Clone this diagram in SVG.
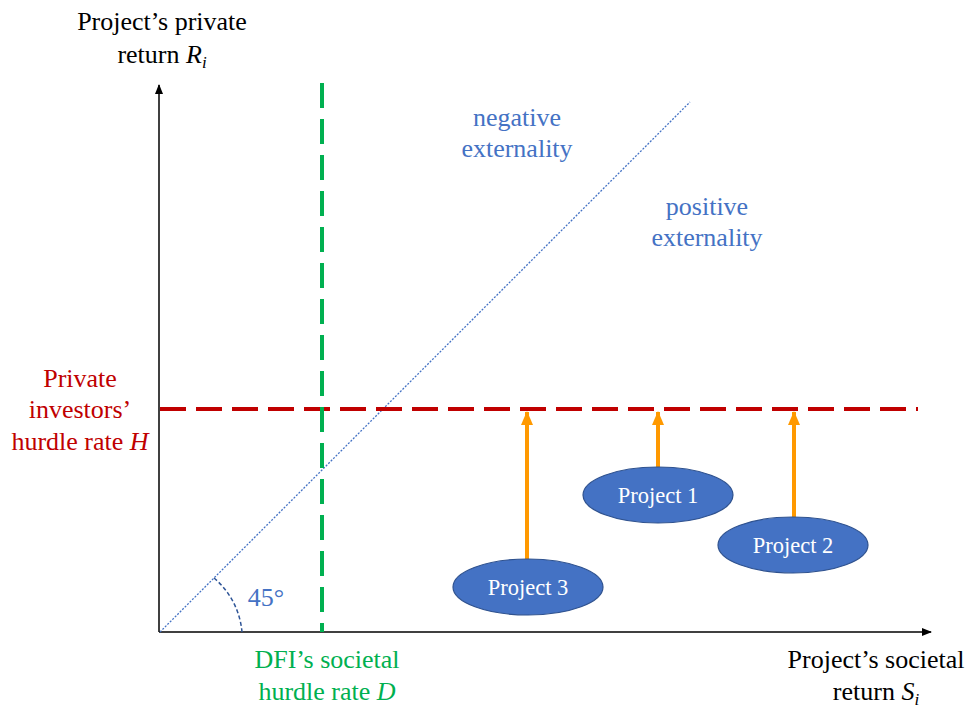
<svg xmlns="http://www.w3.org/2000/svg" width="971" height="708" viewBox="0 0 971 708">
<style>
text{font-family:"Liberation Serif","Times New Roman",serif;font-size:26px;text-anchor:middle}
.blk{fill:#000}
.blu{fill:#4472C4}
.red{fill:#C00000}
.grn{fill:#00B050}
.ptxt{fill:#fff;font-size:22.5px}
.ell{fill:#4472C4;stroke:#2F528F;stroke-width:1.2}
.orr{stroke:#FF9900;stroke-width:4;fill:none}
</style>
<defs>
<marker id="ah" markerWidth="10" markerHeight="8" refX="9" refY="4" orient="auto" markerUnits="userSpaceOnUse">
<path d="M0,0 L10,4 L0,8 z" fill="#000"/>
</marker>
<marker id="oh" markerWidth="14" markerHeight="12" refX="13" refY="6" orient="auto" markerUnits="userSpaceOnUse">
<path d="M0,0 L14,6 L0,12 z" fill="#FF9900"/>
</marker>
</defs>
<g id="connectors">
<line x1="159" y1="632" x2="159" y2="85" stroke="#000" stroke-width="1.5" marker-end="url(#ah)"/>
<line x1="159" y1="632" x2="931" y2="632" stroke="#000" stroke-width="1.5" marker-end="url(#ah)"/>
<line x1="160" y1="632" x2="690" y2="102" stroke="#4472C4" stroke-width="1.3" stroke-dasharray="2,1.5"/>
<path d="M214,578 A80,80 0 0 1 242,632" fill="none" stroke="#2F5597" stroke-width="1.5" stroke-dasharray="4,2.5"/>
<line x1="160" y1="409" x2="918" y2="409" stroke="#C00000" stroke-width="4" stroke-dasharray="26,10"/>
<line x1="322" y1="83" x2="322" y2="632" stroke="#00B050" stroke-width="4" stroke-dasharray="25,11"/>
<line class="orr" x1="527" y1="559" x2="527" y2="412" marker-end="url(#oh)"/>
<line class="orr" x1="658" y1="467" x2="658" y2="412" marker-end="url(#oh)"/>
<line class="orr" x1="794" y1="518" x2="794" y2="412" marker-end="url(#oh)"/>
</g>
<g id="ylabel"><text class="blk" x="162" y="30">Project’s private</text><text class="blk" x="162" y="63">return <tspan font-style="italic">R</tspan><tspan font-style="italic" font-size="17" dy="5">i</tspan></text></g>
<g id="xlabel"><text class="blk" x="876" y="668">Project’s societal</text><text class="blk" x="876" y="700">return <tspan font-style="italic">S</tspan><tspan font-style="italic" font-size="17" dy="5">i</tspan></text></g>
<g id="neg"><text class="blu" x="517" y="126">negative</text><text class="blu" x="517" y="157">externality</text></g>
<g id="pos"><text class="blu" x="707" y="215">positive</text><text class="blu" x="707" y="246">externality</text></g>
<g id="hlabel"><text class="red" x="80" y="387">Private</text><text class="red" x="80" y="418">investors’</text><text class="red" x="80" y="450">hurdle rate <tspan font-style="italic">H</tspan></text></g>
<g id="dlabel"><text class="grn" x="327" y="668">DFI’s societal</text><text class="grn" x="327" y="700">hurdle rate <tspan font-style="italic">D</tspan></text></g>
<g id="angle"><text class="blu" x="266" y="606">45°</text></g>
<g id="project1"><ellipse class="ell" cx="658" cy="495" rx="75" ry="28"/><text class="ptxt" x="658" y="503">Project 1</text></g>
<g id="project2"><ellipse class="ell" cx="793" cy="545" rx="75" ry="28"/><text class="ptxt" x="793" y="553">Project 2</text></g>
<g id="project3"><ellipse class="ell" cx="528" cy="587" rx="75" ry="28"/><text class="ptxt" x="528" y="595">Project 3</text></g>
</svg>
